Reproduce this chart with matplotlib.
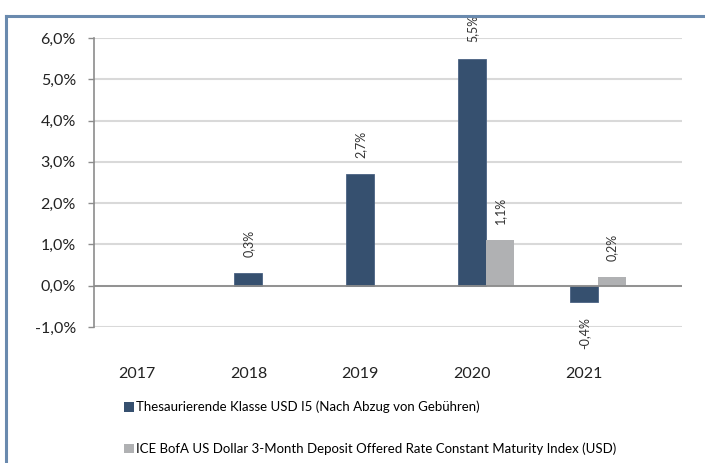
import numpy as np
import matplotlib.pyplot as plt
from matplotlib.lines import Line2D
from matplotlib.patches import Patch

plt.rcParams['font.family'] = ['Lato', 'DejaVu Sans']

years = ["2017", "2018", "2019", "2020", "2021"]
fund = [np.nan, 0.3, 2.7, 5.5, -0.4]
index = [np.nan, np.nan, np.nan, 1.1, 0.2]
fund_name = "Thesaurierende Klasse USD I5 (Nach Abzug von Gebühren)"
index_name = "ICE BofA US Dollar 3-Month Deposit Offered Rate Constant Maturity Index (USD)"

dark = "#36506f"
grey = "#b0b1b3"

fig = plt.figure(figsize=(7.05, 4.63), dpi=100)
ax = fig.add_axes([94 / 705, 1 - 327 / 463, 588 / 705, 289 / 463])

x = np.arange(len(years))
w = 0.25
b1 = ax.bar(x, fund, w, color=dark, edgecolor="#4a6283", linewidth=0.6, zorder=3)
b2 = ax.bar(x + w, index, w, color=grey, zorder=3)


def fmt(v):
    return f"{v:.1f}%".replace(".", ",")


for bars, vals in ((b1, fund), (b2, index)):
    for rect, v in zip(bars, vals):
        if np.isnan(v):
            continue
        cx = rect.get_x() + rect.get_width() / 2
        if v >= 0:
            ax.annotate(fmt(v), (cx, v), xytext=(0, 12), textcoords="offset points",
                        rotation=90, ha="center", va="bottom", fontsize=9, color="#333333")
        else:
            ax.annotate(fmt(v), (cx, v), xytext=(0, -11), textcoords="offset points",
                        rotation=90, ha="center", va="top", fontsize=9, color="#333333")

ax.set_ylim(-1, 6)
ax.set_xlim(-0.38, 4.875)
ax.set_yticks(np.arange(-1, 7, 1))
ax.set_yticklabels([fmt(v) for v in np.arange(-1, 7, 1)], fontsize=11.5, color="#222222")
ax.yaxis.grid(True, color="#d9d9d9", linewidth=1.5, zorder=0)
ax.axhline(0, color="#8c8c8c", linewidth=1.3, zorder=4)
ax.set_xticks(x)
ax.set_xticklabels(years, fontsize=11.5, color="#222222")
ax.tick_params(axis="x", length=0, pad=29)
ax.tick_params(axis="y", length=4.5, width=1, color="#8c8c8c", pad=8.5)
for s in ("top", "right", "bottom"):
    ax.spines[s].set_visible(False)
ax.spines["left"].set_color("#8c8c8c")
ax.spines["left"].set_linewidth(1.2)

handles = [Patch(facecolor=dark), Patch(facecolor=grey)]
leg = fig.legend(handles, [fund_name, index_name], loc="upper left",
                 bbox_to_anchor=(112 / 705, 1 - 389 / 463), frameon=False,
                 handlelength=0.75, handleheight=0.75, handletextpad=0.15,
                 labelspacing=2.2, fontsize=9.5)

# outer frame (top and left edge)
frame = "#6a8aae"
fig.add_artist(Line2D([6 / 705, 1], [1 - 16 / 463] * 2, color=frame, linewidth=2.2))
fig.add_artist(Line2D([6 / 705] * 2, [0, 1 - 16 / 463], color=frame, linewidth=2.2))

fig.savefig("out.png", dpi=100)
